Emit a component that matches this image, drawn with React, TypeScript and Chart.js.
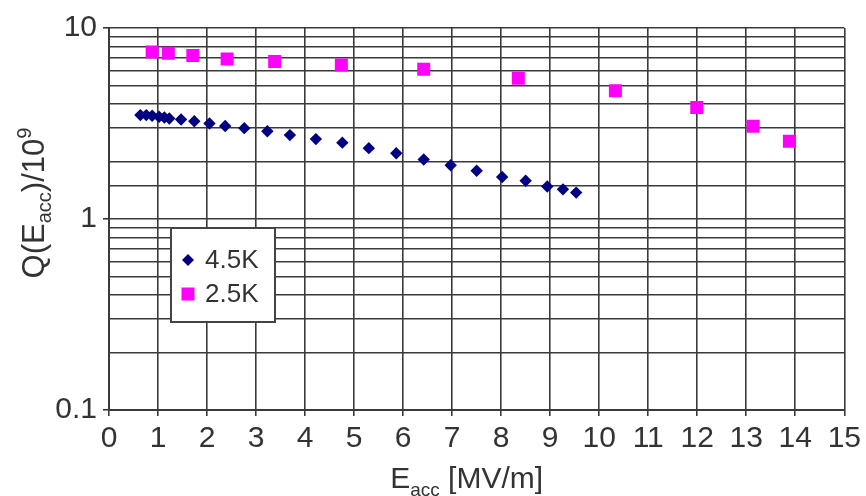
import React, { useEffect, useRef } from 'react';
import { Chart, registerables } from 'chart.js';

Chart.register(...registerables);

// E_acc [MV/m] and Q/1e9 for the 4.5 K series
const eacc45K = [0.64, 0.76, 0.88, 1.02, 1.13, 1.23, 1.47, 1.74, 2.05, 2.37, 2.76, 3.23, 3.69, 4.22, 4.76, 5.30, 5.86, 6.42, 6.97, 7.50, 8.02, 8.50, 8.94, 9.26, 9.53];
const q45K = [3.50, 3.50, 3.47, 3.43, 3.40, 3.36, 3.32, 3.25, 3.16, 3.07, 2.99, 2.88, 2.75, 2.62, 2.51, 2.35, 2.21, 2.05, 1.91, 1.79, 1.66, 1.585, 1.48, 1.43, 1.375];

// E_acc [MV/m] and Q/1e9 for the 2.5 K series
const eacc25K = [0.88, 1.21, 1.71, 2.41, 3.38, 4.74, 6.42, 8.35, 10.33, 11.99, 13.14, 13.88];
const q25K = [7.48, 7.38, 7.17, 6.89, 6.67, 6.41, 6.09, 5.45, 4.69, 3.84, 3.06, 2.55];

const seriesLabels = ['4.5K', '2.5K'];
const xMin = 0;
const xMax = 15;
const yMin = 0.1;
const yMax = 10;
const yLabelTicks = [0.1, 1, 10];

const FONT = '"Liberation Sans", Arial, Helvetica, sans-serif';
const TEXT = '#333333';
const GRID = '#3a3a3a';
const NAVY = '#000080';
const MAGENTA = '#ff00ff';

const isLabelTick = (v: number) => yLabelTicks.some((t) => Math.abs(t - v) < 1e-9);

const overlayPlugin = {
  id: 'overlay',
  afterDatasetsDraw(chart: any) {
    const { ctx, chartArea } = chart;
    ctx.save();
    // Legend box
    const bx = chartArea.left + 62;
    const by = 228;
    const bw = 104;
    const bh = 94;
    ctx.fillStyle = '#ffffff';
    ctx.fillRect(bx, by, bw, bh);
    ctx.strokeStyle = '#444444';
    ctx.lineWidth = 2;
    ctx.strokeRect(bx, by, bw, bh);

    // diamond
    const d1x = bx + 17;
    const d1y = by + 32;
    ctx.fillStyle = NAVY;
    ctx.beginPath();
    ctx.moveTo(d1x, d1y - 6);
    ctx.lineTo(d1x + 6, d1y);
    ctx.lineTo(d1x, d1y + 6);
    ctx.lineTo(d1x - 6, d1y);
    ctx.closePath();
    ctx.fill();
    // square
    const d2x = bx + 17;
    const d2y = by + 66;
    ctx.fillStyle = MAGENTA;
    ctx.fillRect(d2x - 6.5, d2y - 6.5, 13, 13);

    ctx.fillStyle = TEXT;
    ctx.font = `26px ${FONT}`;
    ctx.textBaseline = 'middle';
    ctx.textAlign = 'left';
    ctx.fillText(seriesLabels[0], bx + 34, d1y + 1);
    ctx.fillText(seriesLabels[1], bx + 34, d2y + 1);
    ctx.restore();
  },
  afterDraw(chart: any) {
    const { ctx, chartArea } = chart;
    ctx.save();
    ctx.fillStyle = TEXT;
    ctx.textBaseline = 'alphabetic';
    ctx.textAlign = 'left';

    // X title: E_acc [MV/m]
    const big = `30px ${FONT}`;
    const small = `19px ${FONT}`;
    ctx.font = big;
    const wE = ctx.measureText('E').width;
    const wRest = ctx.measureText(' [MV/m]').width;
    ctx.font = small;
    const wSub = ctx.measureText('acc').width;
    const total = wE + wSub + wRest;
    const cx = (chartArea.left + chartArea.right) / 2 - 10;
    let x = cx - total / 2;
    const base = 488;
    ctx.font = big;
    ctx.fillText('E', x, base);
    x += wE;
    ctx.font = small;
    ctx.fillText('acc', x, base + 8);
    x += wSub;
    ctx.font = big;
    ctx.fillText(' [MV/m]', x, base);

    // Y title: Q(E_acc)/10^9 (rotated)
    ctx.translate(44, 203);
    ctx.rotate(-Math.PI / 2);
    const ybig = `31px ${FONT}`;
    const ysmall = `20px ${FONT}`;
    ctx.font = ybig;
    const a = ctx.measureText('Q(E').width;
    const c = ctx.measureText(')/10').width;
    ctx.font = ysmall;
    const b = ctx.measureText('acc').width;
    const d = ctx.measureText('9').width;
    const tot = a + b + c + d;
    let yx = -tot / 2;
    ctx.font = ybig;
    ctx.fillText('Q(E', yx, 0);
    yx += a;
    ctx.font = ysmall;
    ctx.fillText('acc', yx, 7);
    yx += b;
    ctx.font = ybig;
    ctx.fillText(')/10', yx, 0);
    yx += c;
    ctx.font = ysmall;
    ctx.fillText('9', yx, -13);
    ctx.restore();
  },
};

export default function App() {
  const canvasRef = useRef<HTMLCanvasElement | null>(null);

  useEffect(() => {
    if (!canvasRef.current) return;
    const chart = new Chart(canvasRef.current, {
      type: 'scatter',
      data: {
        datasets: [
          {
            label: seriesLabels[0],
            data: eacc45K.map((x, i) => ({ x, y: q45K[i] })),
            pointStyle: 'rectRot',
            pointRadius: 6.2,
            backgroundColor: NAVY,
            borderColor: NAVY,
            borderWidth: 0,
            showLine: false,
          },
          {
            label: seriesLabels[1],
            data: eacc25K.map((x, i) => ({ x, y: q25K[i] })),
            pointStyle: 'rect',
            pointRadius: 9.2,
            backgroundColor: MAGENTA,
            borderColor: MAGENTA,
            borderWidth: 0,
            showLine: false,
          },
        ],
      },
      options: {
        animation: false,
        responsive: false,
        maintainAspectRatio: false,
        events: [],
        layout: { padding: { top: 28, right: 19, left: 0, bottom: 0 } },
        plugins: {
          legend: { display: false },
          tooltip: { enabled: false },
          title: { display: false },
        },
        scales: {
          x: {
            type: 'linear',
            min: xMin,
            max: xMax,
            ticks: {
              stepSize: 1,
              autoSkip: false,
              maxRotation: 0,
              color: TEXT,
              padding: 5,
              font: { family: FONT, size: 30 },
            },
            grid: { color: GRID, lineWidth: 1.6, tickLength: 6, tickColor: GRID },
            border: { color: GRID, width: 2 },
            afterFit: (s: any) => {
              s.height = 86;
            },
          },
          y: {
            type: 'logarithmic',
            min: yMin,
            max: yMax,
            ticks: {
              autoSkip: false,
              color: TEXT,
              padding: 6,
              font: { family: FONT, size: 30 },
              callback: (v: any) => (isLabelTick(Number(v)) ? String(Number(v)) : ''),
            },
            grid: {
              color: GRID,
              lineWidth: 1.6,
              tickLength: 6,
              tickColor: (ctx: any) => (ctx.tick && isLabelTick(ctx.tick.value) ? GRID : 'rgba(0,0,0,0)'),
            },
            border: { color: GRID, width: 2 },
            afterFit: (s: any) => {
              s.width = 109;
            },
          },
        },
      },
      plugins: [overlayPlugin],
    } as any);
    return () => chart.destroy();
  }, []);

  return (
    <div style={{ position: 'absolute', left: 0, top: 0, width: 866, height: 496, background: '#fff' }}>
      <canvas ref={canvasRef} width={866} height={496} style={{ display: 'block', width: 866, height: 496 }} />
    </div>
  );
}
